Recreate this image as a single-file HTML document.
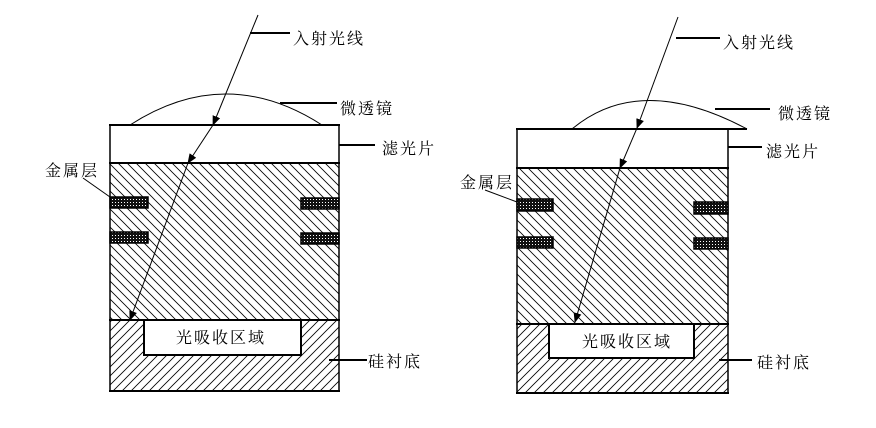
<!DOCTYPE html>
<html><head><meta charset="utf-8"><style>
html,body{margin:0;padding:0;background:#fff;}
svg{display:block}
text{font-family:"Liberation Serif","Noto Serif CJK SC","Noto Sans CJK SC",serif;font-size:16px;fill:#000;letter-spacing:2px}
</style></head><body>
<svg width="876" height="428" viewBox="0 0 876 428" xmlns="http://www.w3.org/2000/svg">
<defs>
<pattern id="bs" patternUnits="userSpaceOnUse" width="9" height="9">
<path d="M-2,-2 L11,11 M-2,7 L2,11 M7,-2 L11,2" stroke="#000" stroke-width="0.8"/>
</pattern>
<pattern id="fs" patternUnits="userSpaceOnUse" width="9" height="9">
<path d="M-2,11 L11,-2 M-2,2 L2,-2 M7,11 L11,7" stroke="#000" stroke-width="0.8"/>
</pattern>
<pattern id="mt" patternUnits="userSpaceOnUse" width="3" height="3">
<rect width="3" height="3" fill="#111"/><rect x="1" y="1" width="1" height="1" fill="#fff"/>
</pattern>
<marker id="ah" markerWidth="10" markerHeight="8" refX="9" refY="4" orient="auto" markerUnits="userSpaceOnUse">
<path d="M0,0 L10,4 L0,8 z" fill="#000"/>
</marker>
</defs>

<!-- LEFT -->
<rect x="110" y="163" width="229" height="157" fill="url(#bs)"/>
<rect x="110" y="320" width="229" height="71" fill="url(#fs)"/>
<rect x="144" y="320" width="157" height="35" fill="#fff" stroke="#000" stroke-width="2"/>
<path d="M110,125 V391 M339,125 V391" stroke="#000" stroke-width="1.5"/>
<path d="M109,125 H340 M109,163 H340 M109,320 H340 M109,391 H340" stroke="#000" stroke-width="2"/>
<path d="M130,125 Q226,63 322,125" fill="none" stroke="#000" stroke-width="1"/>
<g fill="url(#mt)" stroke="#000" stroke-width="1.5">
<rect x="110" y="197" width="38" height="11"/><rect x="110" y="232" width="38" height="11"/>
<rect x="301" y="198" width="38" height="11"/><rect x="301" y="233" width="38" height="11"/>
</g>
<g stroke="#000" stroke-width="1" fill="none">
<line x1="258" y1="15" x2="213" y2="125" marker-end="url(#ah)"/>
<line x1="213" y1="125" x2="188" y2="163" marker-end="url(#ah)"/>
<line x1="188" y1="163" x2="130" y2="320" marker-end="url(#ah)"/>
<line x1="83" y1="178" x2="110" y2="197"/>
</g>
<g stroke="#000" stroke-width="2">
<line x1="250" y1="33" x2="290" y2="33"/>
<line x1="280" y1="103" x2="337" y2="103"/>
<line x1="339" y1="145" x2="375" y2="145"/>
<line x1="329" y1="360" x2="367" y2="360"/>
</g>
<text x="293" y="44">入射光线</text>
<text x="340" y="114">微透镜</text>
<text x="382" y="154">滤光片</text>
<text x="45" y="176">金属层</text>
<text x="368" y="367">硅衬底</text>
<text x="176" y="343">光吸收区域</text>

<!-- RIGHT -->
<rect x="517" y="168" width="211" height="156" fill="url(#bs)"/>
<rect x="517" y="324" width="211" height="69" fill="url(#fs)"/>
<rect x="549" y="324" width="145" height="34" fill="#fff" stroke="#000" stroke-width="2"/>
<path d="M517,129 V393 M728,129 V393" stroke="#000" stroke-width="1.5"/>
<path d="M516,129 H747 M516,168 H729 M516,324 H729 M516,393 H729" stroke="#000" stroke-width="2"/>
<path d="M572,129 Q640,72 747,129" fill="none" stroke="#000" stroke-width="1"/>
<g fill="url(#mt)" stroke="#000" stroke-width="1.5">
<rect x="517" y="199" width="36" height="12"/><rect x="517" y="237" width="36" height="11"/>
<rect x="694" y="202" width="34" height="12"/><rect x="694" y="238" width="34" height="11"/>
</g>
<g stroke="#000" stroke-width="1" fill="none">
<line x1="678" y1="17" x2="637" y2="128" marker-end="url(#ah)"/>
<line x1="637" y1="128" x2="620" y2="168" marker-end="url(#ah)"/>
<line x1="620" y1="168" x2="575" y2="322" marker-end="url(#ah)"/>
<line x1="485" y1="190" x2="517" y2="202"/>
</g>
<g stroke="#000" stroke-width="2">
<line x1="676" y1="38" x2="720" y2="38"/>
<line x1="715" y1="109" x2="770" y2="109"/>
<line x1="728" y1="147" x2="762" y2="147"/>
<line x1="719" y1="360" x2="752" y2="360"/>
</g>
<text x="723" y="48">入射光线</text>
<text x="778" y="119">微透镜</text>
<text x="766" y="157">滤光片</text>
<text x="460" y="188">金属层</text>
<text x="757" y="368">硅衬底</text>
<text x="582" y="347">光吸收区域</text>
</svg>
</body></html>
